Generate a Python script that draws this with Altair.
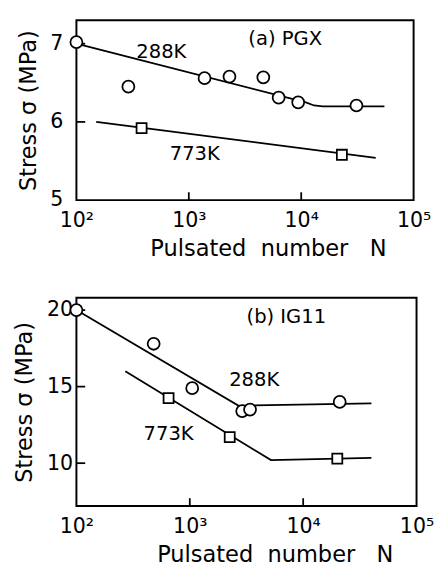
import altair as alt
import pandas as pd

# ---------------- data ----------------
# (a) PGX
a_288_N = [100, 290, 1380, 2300, 4600, 6300, 9400, 31000]
a_288_S = [7.02, 6.45, 6.56, 6.58, 6.57, 6.31, 6.25, 6.21]
a_773_N = [380, 23000]
a_773_S = [5.92, 5.58]
a_288_line_N = [100, 11000, 13000, 15500, 55000]
a_288_line_S = [7.0, 6.25, 6.21, 6.2, 6.2]
a_773_line_N = [150, 46000]
a_773_line_S = [6.0, 5.54]

# (b) IG11
b_288_N = [100, 480, 1050, 2900, 3400, 21000]
b_288_S = [20.0, 17.8, 14.9, 13.4, 13.5, 14.0]
b_773_N = [650, 2250, 20000]
b_773_S = [14.25, 11.7, 10.3]
b_288_line_N = [100, 2700, 40000]
b_288_line_S = [20.0, 13.75, 13.9]
b_773_line_N = [270, 5200, 40000]
b_773_line_S = [16.0, 10.2, 10.35]

x_ticks = [100, 1000, 10000, 100000]
x_tick_labels = ["10²", "10³", "10⁴", "10⁵"]
x_inner_ticks = [1000, 10000]
a_y_ticks = [5, 6, 7]
a_y_inner_ticks = [6, 7]
b_y_ticks = [10, 15, 20]
b_y_inner_ticks = [10, 15, 20]

a_label_N = [570, 1130, 7200]
a_label_S = [6.89, 5.59, 7.06]
a_label_t = ["288K", "773K", "(a) PGX"]
b_label_N = [3700, 650, 7100]
b_label_S = [15.4, 11.9, 19.56]
b_label_t = ["288K", "773K", "(b) IG11"]

FONT = "DejaVu Sans"
label_expr = "{" + ",".join(f"'{v}':'{l}'" for v, l in zip(x_ticks, x_tick_labels)) + "}[datum.value]"
NB = "\u00a0"
X_TITLE = "Pulsated" + NB * 2 + "number" + NB * 3 + "N"


def panel(pts288, pts773, line288, line773, yticks, yinner, ydomain, labels, W, H, lab_pad, title_pad, title_x):
    xs = alt.Scale(type="log", domain=[100, 100000])
    ys = alt.Scale(domain=ydomain, nice=False, zero=False)
    xaxis = alt.Axis(values=x_ticks, labelExpr=label_expr, ticks=False, domain=False, grid=False,
                     labelFont=FONT, labelFontSize=21, labelPadding=10, labelColor="black",
                     title=X_TITLE, titleFont=FONT, titleFontSize=23,
                     titleFontWeight="normal", titlePadding=8, titleColor="black",
                     titleX=title_x, labelFlush=False)
    yaxis = alt.Axis(values=yticks, format="d", ticks=False, domain=False, grid=False,
                     labelFont=FONT, labelFontSize=21, labelPadding=lab_pad, labelColor="black",
                     title="Stress σ (MPa)", titleFont=FONT, titleFontSize=23,
                     titleFontWeight="normal", titlePadding=title_pad, titleColor="black")
    X = alt.X("N:Q", scale=xs, axis=xaxis)
    Y = alt.Y("S:Q", scale=ys, axis=yaxis)

    ln = pd.concat([
        pd.DataFrame({"N": line288[0], "S": line288[1], "s": "288K"}),
        pd.DataFrame({"N": line773[0], "S": line773[1], "s": "773K"}),
    ])
    lines = alt.Chart(ln).mark_line(color="black", strokeWidth=1.8).encode(
        x=X, y=Y, detail="s:N")
    circ = alt.Chart(pd.DataFrame({"N": pts288[0], "S": pts288[1]})).mark_point(
        shape="circle", size=150, filled=True, fill="white", stroke="black", strokeWidth=1.8,
        opacity=1).encode(x=X, y=Y)
    sq = alt.Chart(pd.DataFrame({"N": pts773[0], "S": pts773[1]})).mark_point(
        shape="square", size=105, filled=True, fill="white", stroke="black", strokeWidth=1.8,
        opacity=1).encode(x=X, y=Y)
    xt = alt.Chart(pd.DataFrame({"N": x_inner_ticks})).mark_rule(color="black", strokeWidth=1.8).encode(
        x=X, y=alt.value(H), y2=alt.value(H - 8))
    yt = alt.Chart(pd.DataFrame({"S": yinner})).mark_rule(color="black", strokeWidth=1.8).encode(
        y=Y, x=alt.value(0), x2=alt.value(9))
    lab = pd.DataFrame({"N": labels[0], "S": labels[1], "t": labels[2]})
    txt = alt.Chart(lab).mark_text(font=FONT, fontSize=20, color="black").encode(
        x=X, y=Y, text="t:N")
    return alt.layer(lines, xt, yt, circ, sq, txt).properties(width=W, height=H)


pa = panel((a_288_N, a_288_S), (a_773_N, a_773_S), (a_288_line_N, a_288_line_S),
           (a_773_line_N, a_773_line_S), a_y_ticks, a_y_inner_ticks, [5, 7.3],
           (a_label_N, a_label_S, a_label_t), 345, 184, 14, 10, 196)
pb = panel((b_288_N, b_288_S), (b_773_N, b_773_S), (b_288_line_N, b_288_line_S),
           (b_773_line_N, b_773_line_S), b_y_ticks, b_y_inner_ticks, [7.2, 20.8],
           (b_label_N, b_label_S, b_label_t), 348, 213, 4, 10, 203)

chart = alt.vconcat(pa, pb, spacing=36).properties(
    padding={"left": 5, "top": 5, "right": 5, "bottom": 0}
).configure(background="white").configure_view(stroke="black", strokeWidth=2, fill="white")

chart.save("out.html", embed_options={"renderer": "svg", "actions": False})
